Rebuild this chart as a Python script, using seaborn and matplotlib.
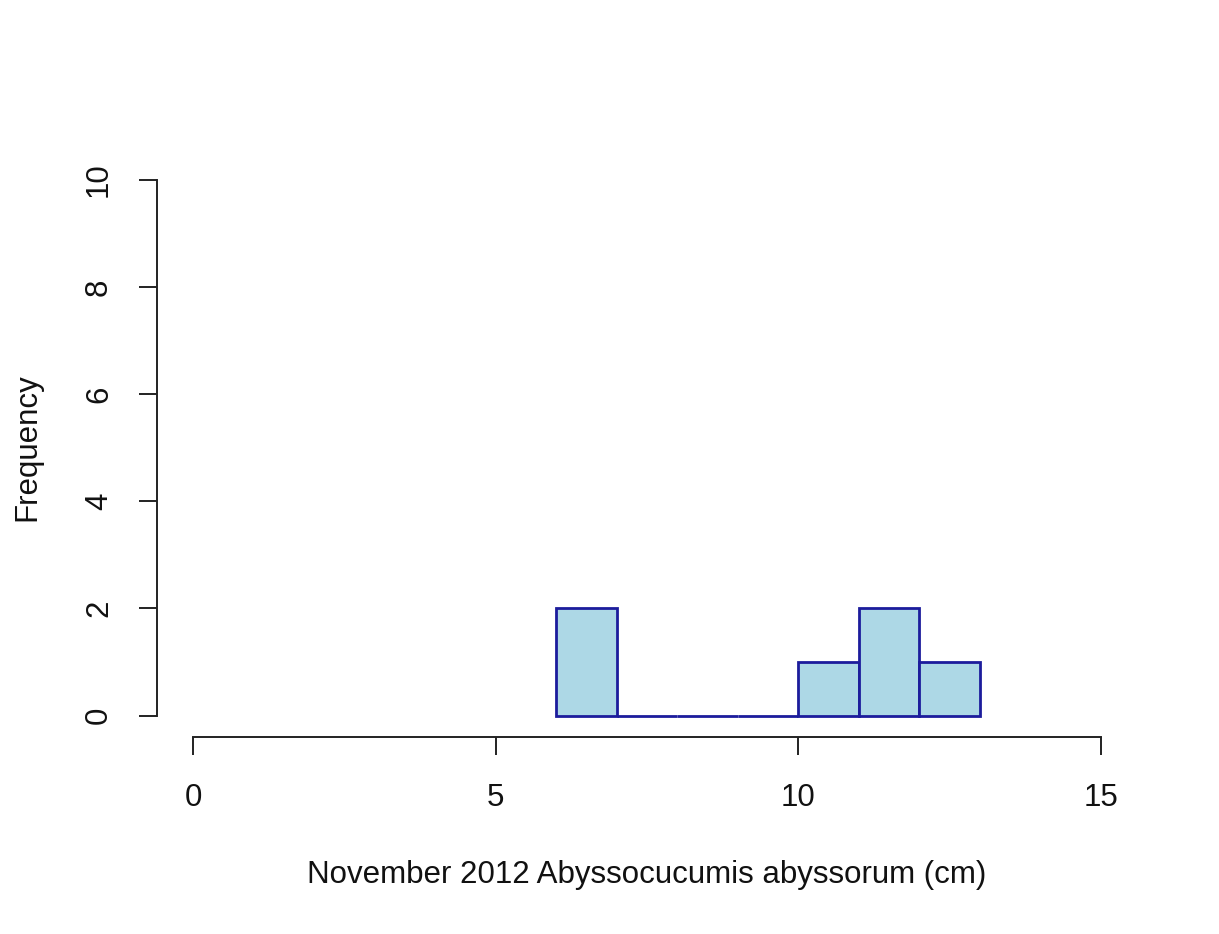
import seaborn as sns
import matplotlib.pyplot as plt
import numpy as np

# Histogram bins (cm) and counts
bin_edges = [6, 7, 8, 9, 10, 11, 12, 13]
counts = [2, 0, 0, 0, 1, 2, 1]
x_ticks = [0, 5, 10, 15]
y_ticks = [0, 2, 4, 6, 8, 10]

x_label = 'November 2012 Abyssocucumis abyssorum (cm)'
y_label = 'Frequency'

sns.set_style('white')
plt.rcParams['font.family'] = ['Liberation Sans', 'DejaVu Sans']

fig = plt.figure(figsize=(12.19, 9.34), dpi=100)
ax = fig.add_axes([157 / 1219, 1 - 737 / 934, (1137 - 157) / 1219, (737 - 158.6) / 934])

# bin centres weighted by counts -> one bar per bin
centres = (np.array(bin_edges[:-1]) + np.array(bin_edges[1:])) / 2
sns.histplot(x=centres, weights=counts, bins=bin_edges, ax=ax,
             color='#add8e6', edgecolor='#1c1c9c', linewidth=2.0, alpha=1)

ax.set_xlim(-0.6, 15.6)
ax.set_ylim(-0.4, 10.4)
ax.set_xticks(x_ticks)
ax.set_yticks(y_ticks)

# R-style detached axes
for side in ['top', 'right']:
    ax.spines[side].set_visible(False)
ax.spines['left'].set_bounds(0, 10)
ax.spines['bottom'].set_bounds(0, 15)
for side in ['left', 'bottom']:
    ax.spines[side].set_color('#222222')
    ax.spines[side].set_linewidth(1.4)

ax.tick_params(axis='both', direction='out', length=13, width=1.4,
               bottom=True, left=True,
               color='#222222', labelsize=22.5, labelcolor='#111111')
ax.tick_params(axis='x', pad=20)
ax.tick_params(axis='y', pad=18)
plt.setp(ax.get_yticklabels(), rotation=90, va='center')

ax.set_xlabel(x_label, fontsize=22.5, color='#111111', va='center')
ax.set_ylabel(y_label, fontsize=22.5, color='#111111', va='center')
ax.xaxis.set_label_coords(0.5, (737 - 875) / 578.4)
ax.yaxis.set_label_coords((27 - 157) / 980, (737 - 447) / 578.4)

fig.savefig('out.png', dpi=100)
